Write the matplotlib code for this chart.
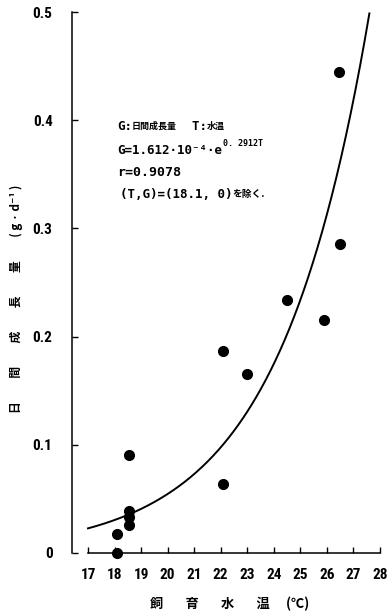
import matplotlib
matplotlib.use("Agg")
import matplotlib.pyplot as plt
import matplotlib.font_manager as fm
import numpy as np

# ---- data ----
water_temp = [18.1, 18.1, 18.55, 18.55, 18.55, 18.55, 22.1, 22.1, 23.0, 24.5, 25.9, 26.5, 26.45]
daily_growth = [0.0, 0.018, 0.026, 0.033, 0.039, 0.091, 0.064, 0.187, 0.165, 0.234, 0.215, 0.286, 0.445]
coef_a = 1.612e-4
coef_b = 0.2912
curve_range = (17.0, 27.6)
x_ticks = list(range(17, 29))
y_ticks = [0, 0.1, 0.2, 0.3, 0.4, 0.5]
y_ticklabels = ["0", "0.1", "0.2", "0.3", "0.4", "0.5"]

names = {f.name for f in fm.fontManager.ttflist}
narrow = "DejaVu Sans"
for cand in ["Liberation Sans Narrow", "Roboto Condensed", "Open Sans Condensed", "DejaVu Sans Condensed"]:
    if cand in names:
        narrow = cand
        break

cjk = ["Noto Sans CJK JP", "DejaVu Sans"]
mono = ["DejaVu Sans Mono", "Noto Sans CJK JP"]

fig = plt.figure(figsize=(3.88, 6.15), dpi=100)
W, H = 388, 615
left_px, right_px, bot_px, top_px = 72, 380, 553, 12
ax = fig.add_axes([left_px / W, (H - bot_px) / H, (right_px - left_px) / W, (bot_px - top_px) / H])
ppu = (right_px - left_px) / 11.604
ax.set_xlim(17 - (88 - left_px) / ppu, 28)
ax.set_ylim(0, 0.5)

# fitted curve drawn from the equation printed on the chart
T = np.linspace(curve_range[0], curve_range[1], 300)
ax.plot(T, coef_a * np.exp(coef_b * T), color="black", lw=1.4, clip_on=False)
ax.plot(water_temp, daily_growth, "o", color="black", ms=7, clip_on=False, zorder=5)

for s in ["top", "right"]:
    ax.spines[s].set_visible(False)
ax.spines["left"].set_bounds(0, 0.5)
ax.spines["bottom"].set_bounds(17, 28)
ax.spines["left"].set_linewidth(1.1)
ax.spines["bottom"].set_linewidth(1.1)

ax.set_xticks(x_ticks)
ax.set_xticklabels([str(t) for t in x_ticks], fontfamily=narrow, fontweight="bold", fontsize=11)
ax.set_yticks(y_ticks)
ax.set_yticklabels(y_ticklabels, fontfamily=narrow, fontweight="bold", fontsize=11)
ax.tick_params(axis="both", direction="in", length=4, width=1.0)
ax.tick_params(axis="y", pad=14)
ax.tick_params(axis="x", pad=11)

ax.set_ylabel("日　　間　　成　　長　　量　　( g · d⁻¹ )", family=cjk, fontweight="bold",
              fontsize=8.5, labelpad=0)
ax.yaxis.set_label_coords(-49 / (right_px - left_px), 1 - (299 - top_px) / (bot_px - top_px))
ax.set_xlabel("飼　   育　   水　   温　 (℃)", family=cjk, fontweight="bold", fontsize=9.5)
ax.xaxis.set_label_coords((230 - left_px) / (right_px - left_px), -44 / (bot_px - top_px))

# annotation text
tx = 117
def fy(py):
    return 1 - py / H

a1 = fig.text(tx / W, fy(126), "G:", family=mono, fontweight="bold", fontsize=9, va="center")
a2 = ax.annotate("日間成長量", xy=(1, 0.5), xycoords=a1, xytext=(0, 0), textcoords="offset points",
                 family=cjk, fontweight="bold", fontsize=6.5, va="center", ha="left")
a3 = ax.annotate("  T:", xy=(1, 0.5), xycoords=a2, xytext=(0, 0), textcoords="offset points",
                 family=mono, fontweight="bold", fontsize=9, va="center", ha="left")
ax.annotate("水温", xy=(1, 0.5), xycoords=a3, xytext=(0, 0), textcoords="offset points",
            family=cjk, fontweight="bold", fontsize=6.5, va="center", ha="left")

t2 = fig.text(tx / W, fy(150), "G=1.612·10⁻⁴·e", family=mono, fontweight="bold", fontsize=9, va="center")
ax.annotate("0. 2912T", xy=(1, 1), xycoords=t2, xytext=(1, -3), textcoords="offset points",
            family=mono, fontweight="bold", fontsize=6, va="bottom", ha="left")
fig.text(tx / W, fy(172), "r=0.9078", family=mono, fontweight="bold", fontsize=9.5, va="center")
b1 = fig.text((tx + 3) / W, fy(194), "(T,G)=(18.1, 0)", family=mono, fontweight="bold", fontsize=9, va="center")
ax.annotate("を除く.", xy=(1, 0.5), xycoords=b1, xytext=(0, 0), textcoords="offset points",
            family=cjk, fontweight="bold", fontsize=7, va="center", ha="left")

fig.savefig("out.png", dpi=100)
